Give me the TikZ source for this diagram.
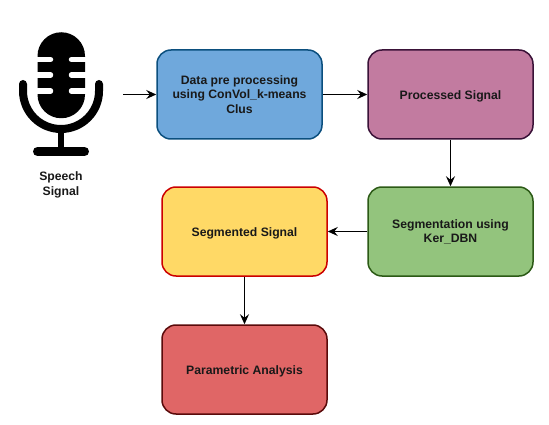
\documentclass[tikz,border=0pt]{standalone}
\usepackage{fontspec}
\setmainfont{Liberation Sans}
\usetikzlibrary{arrows.meta}
\definecolor{bluef}{HTML}{6FA8DC}\definecolor{blued}{HTML}{0B4F7E}
\definecolor{purf}{HTML}{C27BA0}\definecolor{purd}{HTML}{3A1238}
\definecolor{grnf}{HTML}{93C47D}\definecolor{grnd}{HTML}{2C5A16}
\definecolor{yelf}{HTML}{FFD966}\definecolor{yeld}{HTML}{CC0000}
\definecolor{redf}{HTML}{E06666}\definecolor{redd}{HTML}{5A0A0A}
\tikzset{
 x=1pt,y=-1pt,
 block/.style={draw,line width=1.5pt,rounded corners=14pt,minimum width=165pt,minimum height=89pt,inner sep=2pt,align=center,font=\fontsize{12.2}{14.3}\selectfont\bfseries,text=black!90,execute at begin node={\rule{0pt}{12.5pt}}},
 flow/.style={line width=1.6pt,-{Stealth[length=10pt,width=9pt,inset=3.5pt]}},
 micnotch/.style={line width=5.5pt,line cap=round,white}
}
\begin{document}
\begin{tikzpicture}
\useasboundingbox (0,0) rectangle (549,425);
\fill[white] (0,0) rectangle (549,425);
% microphone
\fill[black] (37.5,56) arc[start angle=180,end angle=360,radius=23.75] -- (85,94.5) arc[start angle=0,end angle=180,radius=23.75] -- cycle;
\foreach \yy in {59.5,75,91}{
 \draw[micnotch] (30,\yy) -- (50.5,\yy);
 \draw[micnotch] (71.5,\yy) -- (92,\yy);
}
\draw[line width=8pt,line cap=round,black] (23,84) -- (23,91) arc[start angle=180,end angle=0,radius=38] -- (99,84);
\draw[line width=6.5pt,black] (61,128) -- (61,150);
\draw[line width=9pt,line cap=round,black] (37.5,151.5) -- (84.5,151.5);
\node[font=\fontsize{12.2}{15}\selectfont\bfseries,align=center,text=black!90] (mic) at (61,185) {Speech\\Signal};
% blocks
\coordinate (micout) at (123,94.5);
\node[block,fill=bluef,draw=blued] (a) at (239.5,94.5) {Data pre processing\\using ConVol\_k-means\\Clus};
\node[block,fill=purf,draw=purd] (b) at (450.5,94.5) {Processed Signal};
\node[block,fill=grnf,draw=grnd] (c) at (450.5,231.5) {Segmentation using\\Ker\_DBN};
\node[block,fill=yelf,draw=yeld] (d) at (244.5,231.5) {Segmented Signal};
\node[block,fill=redf,draw=redd] (e) at (244.5,369.5) {Parametric Analysis};
\draw[flow] (micout) -- (a.west);
\draw[flow] (a) -- (b);
\draw[flow] (b) -- (c);
\draw[flow] (c) -- (d);
\draw[flow] (d) -- (e);
\end{tikzpicture}
\end{document}
